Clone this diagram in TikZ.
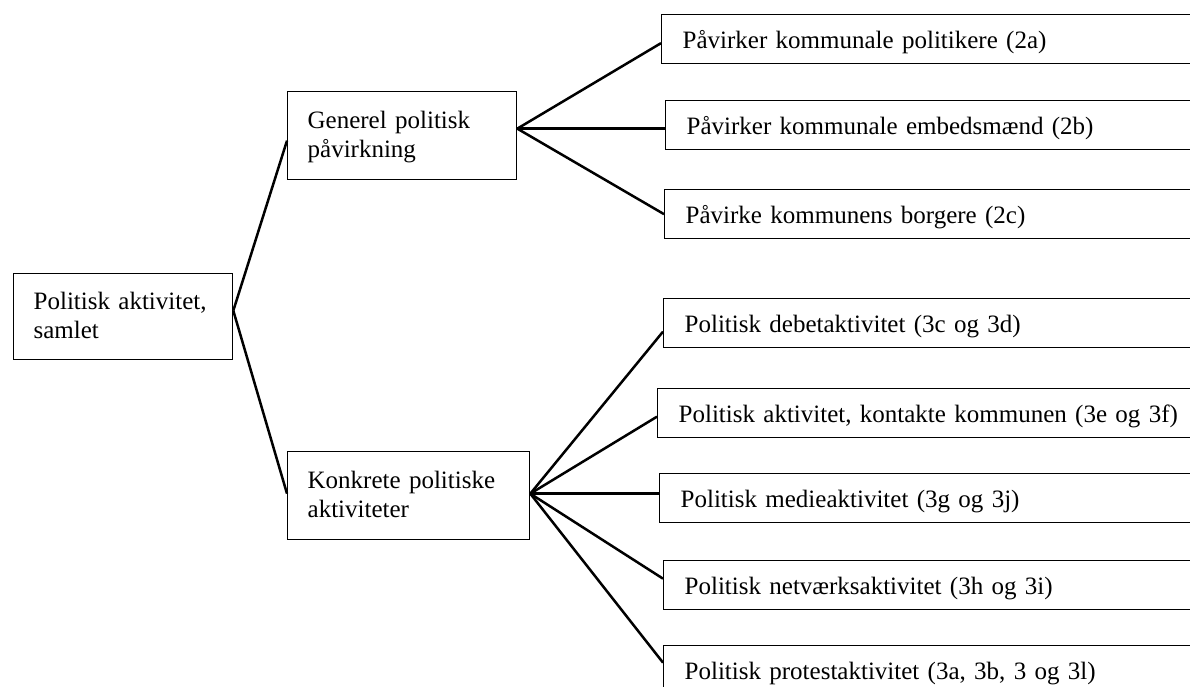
\documentclass[tikz,border=0pt]{standalone}
\usepackage{fontspec}
\setmainfont{Liberation Serif}
\begin{document}
\begin{tikzpicture}[x=1pt,y=-1pt,
  box/.style={draw, line width=1.3pt, anchor=north west, align=left,
    inner xsep=20pt, inner ysep=0pt, font=\fontsize{25}{29}\selectfont},
  leaf/.style={box, minimum height=49pt, inner xsep=21pt,
    text height=24pt, text depth=6pt},
  conn/.style={line width=2.5pt}]
\useasboundingbox (0,0) rectangle (1190,687);
\clip (0,0) rectangle (1190,687);

% level 1 and 2
\node[box, text width=179pt, minimum height=86pt] (root) at (13,273)
  {\rule{0pt}{20pt}Politisk aktivitet,\\samlet\rule[-6pt]{0pt}{6pt}};
\node[box, text width=189pt, minimum height=88pt] (gen) at (287,91)
  {\rule{0pt}{20pt}Generel politisk\\påvirkning\rule[-6pt]{0pt}{6pt}};
\node[box, text width=202pt, minimum height=88pt] (kon) at (287,451)
  {\rule{0pt}{20pt}Konkrete politiske\\aktiviteter\rule[-6pt]{0pt}{6pt}};

% leaves
\node[leaf, text width=537pt] (a2) at (661,14) {Påvirker kommunale politikere (2a)};
\node[leaf, text width=533pt] (b2) at (665,100) {Påvirker kommunale embedsmænd (2b)};
\node[leaf, text width=534pt] (c2) at (664,189) {Påvirke kommunens borgere (2c)};
\node[leaf, text width=535pt] (d3) at (663,298) {Politisk debetaktivitet (3c og 3d)};
\node[leaf, text width=541pt] (e3) at (657,388) {Politisk aktivitet, kontakte kommunen (3e og 3f)};
\node[leaf, text width=539pt] (g3) at (659,473) {Politisk medieaktivitet (3g og 3j)};
\node[leaf, text width=535pt] (h3) at (663,560) {Politisk netværksaktivitet (3h og 3i)};
\node[leaf, text width=535pt] (p3) at (663,645) {Politisk protestaktivitet (3a, 3b, 3 og 3l)};

% connectors
\draw[conn] ([yshift=6pt]root.east) -- ([yshift=-5pt]gen.west);
\draw[conn] ([yshift=6pt]root.east) -- ([yshift=2pt]kon.west);

\draw[conn] ([yshift=7pt]gen.east) -- ([yshift=-4pt]a2.west);
\draw[conn] ([yshift=7pt]gen.east) -- ([yshift=-3.5pt]b2.west);
\draw[conn] ([yshift=7pt]gen.east) -- (c2.west);

\draw[conn] ([yshift=2pt]kon.east) -- ([yshift=-8.5pt]d3.west);
\draw[conn] ([yshift=2pt]kon.east) -- ([yshift=-3.5pt]e3.west);
\draw[conn] ([yshift=2pt]kon.east) -- ([yshift=4.5pt]g3.west);
\draw[conn] ([yshift=2pt]kon.east) -- ([yshift=6.5pt]h3.west);
\draw[conn] ([yshift=2pt]kon.east) -- ([yshift=7.5pt]p3.west);
\end{tikzpicture}
\end{document}
